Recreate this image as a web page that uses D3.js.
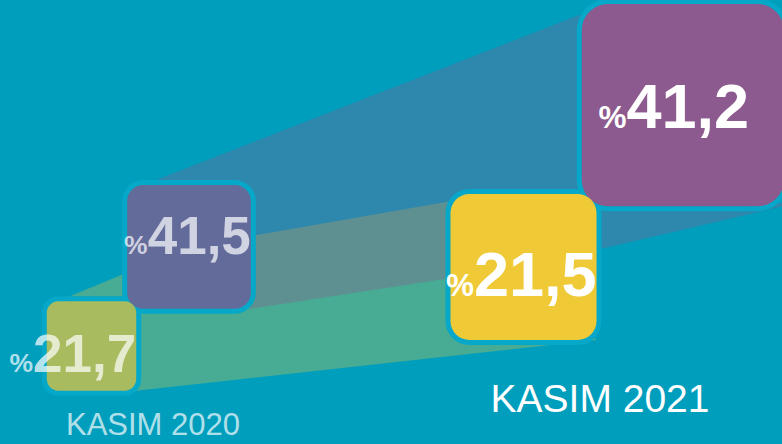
<!DOCTYPE html>
<html>
  <head>
    <meta charset="utf-8">
    <script src="https://d3js.org/d3.v7.min.js"></script>
    <style>
      body { margin: 0; background-color: #009ebd; }
      svg { display: block; }
      text { font-family: "Liberation Sans", Arial, sans-serif; }
    </style>
  </head>
  <body>
    <div id="chart"></div>
    <script>

    // data
    var years = ["KASIM 2020", "KASIM 2021"];
    var values2020 = [21.7, 41.5];
    var values2021 = [21.5, 41.2];
    var series = [values2020, values2021];

    var width = 782, height = 444;

    // colours: index 0 = small share, 1 = large share
    var fill2021 = ["#f0c936", "#8c5a8e"];
    var fill2020 = ["#a9bb5f", "#636b9b"];
    var border = "#05a8c8";

    // perspective: first year far away, second year near
    var anchorX = d3.scaleLinear().domain([0, 1]).range([91.5, 523.5]);
    var anchorY = d3.scaleLinear().domain([0, 1]).range([346, 267]);
    var depth = d3.scaleLinear().domain([0, 1]).range([19.2, 31.5]);
    var fontSize = d3.scaleLinear().domain([0, 1]).range([53, 63]);
    var labelX = d3.scaleLinear().domain([0, 1]).range([153, 600]);
    var labelY = d3.scaleLinear().domain([0, 1]).range([435, 412]);
    var labelSize = d3.scaleLinear().domain([0, 1]).range([31, 39]);

    // where the value sits in its box (baseline, fraction of side)
    var textDrop = [[0.79, 0.56], [0.70, 0.615]];

    var fmt = d3.formatLocale({ decimal: ",", thousands: ".", grouping: [3], currency: ["", ""] }).format(".1f");

    // build the boxes
    var boxes = [];
    series.forEach(function(vals, yi) {
      var side = d3.scaleSqrt().domain([0, 1]).range([0, depth(yi)]);
      var s0 = side(vals[0]), s1 = side(vals[1]);
      var c0 = [anchorX(yi), anchorY(yi)];
      var half = (s0 + s1) / 2;
      var c1 = [c0[0] + 0.915 * half, c0[1] - 0.93 * half];
      [[c0, s0], [c1, s1]].forEach(function(b, gi) {
        boxes.push({
          year: yi, group: gi, value: vals[gi],
          cx: b[0][0], cy: b[0][1], s: b[1],
          x0: b[0][0] - b[1] / 2, y0: b[0][1] - b[1] / 2,
          x1: b[0][0] + b[1] / 2, y1: b[0][1] + b[1] / 2
        });
      });
    });
    function box(y, g) { return boxes.filter(function(b) { return b.year === y && b.group === g; })[0]; }

    var svg = d3.select("#chart").append("svg")
        .attr("width", width)
        .attr("height", height);

    svg.append("rect").attr("width", width).attr("height", height).attr("fill", "#009ebd");

    // beams between the years
    var a0 = box(0, 0), a1 = box(0, 1), b0 = box(1, 0), b1 = box(1, 1);
    var beams = [
      { color: fill2021[0], opacity: 0.3, pts: [
        [a0.x0, a0.y0 + 0.05 * a0.s], [a1.cx, a1.cy], [b0.x0, b0.y0 + 0.05 * b0.s],
        [b0.x1, b0.y1], [a0.x1, a0.y1]] },
      { color: fill2021[1], opacity: 0.33, pts: [
        [a1.x0, a1.y0 + 0.05 * a1.s], [b1.x0, b1.y0 + 0.05 * b1.s],
        [b1.x1, b1.y1], [b0.cx, b0.cy], [a1.x1, a1.y1]] }
    ];

    svg.selectAll(".beam")
        .data(beams)
        .enter().append("path")
          .attr("class", "beam")
          .attr("d", function(d) { return d3.line()(d.pts) + "Z"; })
          .attr("fill", function(d) { return d.color; })
          .attr("fill-opacity", function(d) { return d.opacity; });

    // boxes, year by year, large one first
    [0, 1].forEach(function(yi) {
      var g = svg.append("g").attr("class", "year" + yi);
      var list = [box(yi, 1), box(yi, 0)];

      g.selectAll(".frame")
          .data(list)
          .enter().append("rect")
            .attr("class", "frame")
            .attr("x", function(d) { return d.x0 - 5; })
            .attr("y", function(d) { return d.y0 - 5; })
            .attr("width", function(d) { return d.s + 10; })
            .attr("height", function(d) { return d.s + 10; })
            .attr("rx", function(d) { return 0.13 * d.s + 5; })
            .attr("fill", border);

      g.selectAll(".tile")
          .data(list)
          .enter().append("rect")
            .attr("class", "tile")
            .attr("x", function(d) { return d.x0; })
            .attr("y", function(d) { return d.y0; })
            .attr("width", function(d) { return d.s; })
            .attr("height", function(d) { return d.s; })
            .attr("rx", function(d) { return 0.13 * d.s; })
            .attr("fill", function(d) { return yi === 0 ? fill2020[d.group] : fill2021[d.group]; });

      var txt = g.selectAll(".val")
          .data(list)
          .enter().append("text")
            .attr("class", "val")
            .attr("text-anchor", "end")
            .attr("y", function(d) { return d.y0 + textDrop[yi][d.group] * d.s; })
            .attr("fill", "#ffffff")
            .attr("fill-opacity", yi === 0 ? 0.7 : 1)
            .attr("font-weight", "bold")
            .attr("font-size", fontSize(yi));
      txt.append("tspan").attr("font-size", fontSize(yi) * 0.5).text("%");
      txt.append("tspan").text(function(d) { return fmt(d.value); });
      txt.attr("x", function(d) {
        var w = this.getComputedTextLength();
        // wide numbers hug the right edge, narrow ones sit a little left of centre
        return w > 0.9 * d.s ? d.x1 : d.cx + w / 2 - 0.045 * d.s;
      });

      svg.append("text")
          .attr("x", labelX(yi))
          .attr("y", labelY(yi))
          .attr("text-anchor", "middle")
          .attr("font-size", labelSize(yi))
          .attr("fill", "#ffffff")
          .attr("fill-opacity", yi === 0 ? 0.7 : 1)
          .text(years[yi]);
    });

    </script>
  </body>
</html>
